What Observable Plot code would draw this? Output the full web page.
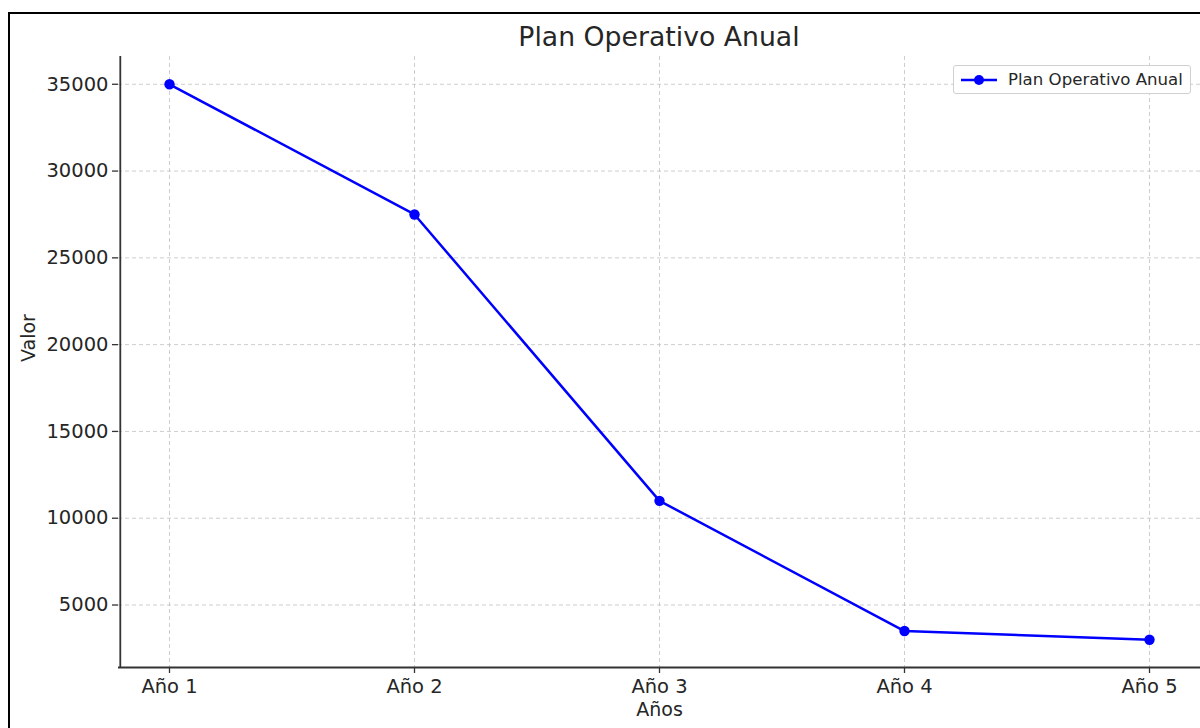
<!DOCTYPE html>
<html>
<head>
<meta charset="utf-8">
<script src="https://cdn.jsdelivr.net/npm/d3@7"></script>
<script src="https://cdn.jsdelivr.net/npm/@observablehq/plot@0.6"></script>
<style>
  html, body { margin: 0; padding: 0; background: #fff; }
  body { width: 1200px; height: 728px; overflow: hidden; position: relative; font-family: "DejaVu Sans", sans-serif; }
  #frame { position: absolute; left: 8px; top: 12px; width: 1300px; height: 800px; border-top: 2px solid #000; border-left: 2px solid #000; box-sizing: border-box; }
  #chart { position: absolute; left: 0; top: 0; }
  #title { position: absolute; top: 24px; left: 118px; width: 1082px; text-align: center; font-size: 26.7px; color: #262626; line-height: 1; }
  #legend { position: absolute; left: 953px; top: 65px; width: 238px; height: 29px; border: 1px solid #d0d0d0; border-radius: 3px; background: #fff; box-sizing: border-box; }
  #legend svg { position: absolute; left: 6px; top: 6px; }
  #legend span { position: absolute; left: 54px; top: 5px; font-size: 16.6px; color: #262626; line-height: 1.1; white-space: nowrap; }
</style>
</head>
<body>
<div id="frame"></div>
<div id="chart"></div>
<div id="title">Plan Operativo Anual</div>
<div id="legend"><svg width="40" height="16"><line x1="1" y1="8" x2="37" y2="8" stroke="#0000ff" stroke-width="2.3"/><circle cx="19" cy="8" r="5" fill="#0000ff"/></svg><span>Plan Operativo Anual</span></div>
<script>
const years = ["Año 1", "Año 2", "Año 3", "Año 4", "Año 5"];
const values = [35000, 27500, 11000, 3500, 3000];
const yTicks = [5000, 10000, 15000, 20000, 25000, 30000, 35000];
const seriesName = "Plan Operativo Anual";

const data = years.map((y, i) => ({year: y, value: values[i]}));

const chart = Plot.plot({
  width: 1200,
  height: 728,
  marginLeft: 118,
  marginRight: 0,
  marginTop: 56,
  marginBottom: 61,
  style: {fontFamily: "DejaVu Sans, sans-serif", fontSize: "19.5px", color: "#262626", background: "transparent", overflow: "visible"},
  x: {type: "point", domain: years, padding: 0.2, label: null},
  y: {domain: [1400, 36600], label: null},
  marks: [
    Plot.gridX(years, {stroke: "#c0c0c0", strokeOpacity: 0.8, strokeDasharray: "4,3", strokeWidth: 1}),
    Plot.gridY(yTicks, {stroke: "#c0c0c0", strokeOpacity: 0.8, strokeDasharray: "4,3", strokeWidth: 1}),
    Plot.axisX(years, {tickSize: 6, tickPadding: 6, fontSize: 19.5, stroke: "#333", strokeWidth: 1.3, fill: "#262626", label: null}),
    Plot.axisY(yTicks, {tickSize: 6, tickPadding: 4, fontSize: 19.5, stroke: "#333", strokeWidth: 1.3, fill: "#262626", tickFormat: d => String(d), label: null}),
    Plot.ruleX([0], {x: () => years[0], dx: -49.2, stroke: "#333", strokeWidth: 1.8}),
    Plot.ruleY([1400], {stroke: "#333", strokeWidth: 1.8}),
    Plot.line(data, {x: "year", y: "value", stroke: "#0000ff", strokeWidth: 2.5}),
    Plot.dot(data, {x: "year", y: "value", fill: "#0000ff", r: 5.2}),
    Plot.text(["Años"], {frameAnchor: "bottom", dy: 48, fontSize: 19, fill: "#262626"}),
    Plot.text(["Valor"], {frameAnchor: "left", dx: -90, rotate: -90, fontSize: 19, fill: "#262626"})
  ]
});
document.getElementById("chart").appendChild(chart);
</script>
</body>
</html>
